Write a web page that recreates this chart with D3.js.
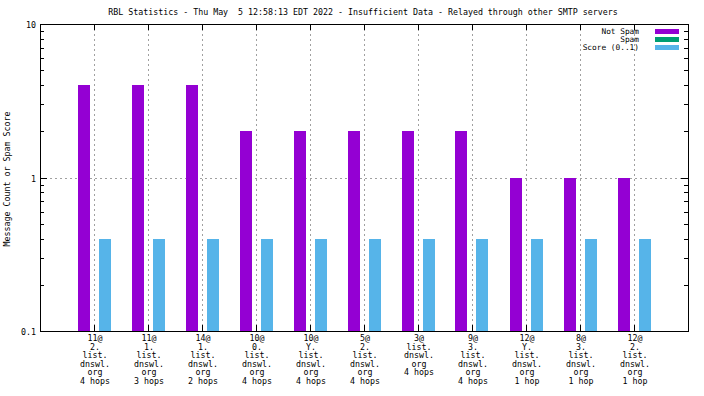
<!DOCTYPE html>
<html>
<head>
<meta charset="utf-8">
<script src="https://cdn.jsdelivr.net/npm/d3@7"></script>
<style>
  body { margin: 0; background: #fff; }
  text { font-family: "DejaVu Sans Mono", monospace; font-size: 8.3px; fill: #000; white-space: pre; }
</style>
</head>
<body>
<svg id="chart" width="704" height="396"></svg>
<script>
// category labels, one entry per group (lines split on "|")
const categories = [
  "11@|2.|list.|dnswl.|org|4 hops",
  "11@|1.|list.|dnswl.|org|3 hops",
  "14@|1.|list.|dnswl.|org|2 hops",
  "10@|0.|list.|dnswl.|org|4 hops",
  "10@|Y.|list.|dnswl.|org|4 hops",
  "5@|2.|list.|dnswl.|org|4 hops",
  "3@|list.|dnswl.|org|4 hops",
  "9@|3.|list.|dnswl.|org|4 hops",
  "12@|Y.|list.|dnswl.|org|1 hop",
  "8@|3.|list.|dnswl.|org|1 hop",
  "12@|2.|list.|dnswl.|org|1 hop"
];
const notSpam = [4, 4, 4, 2, 2, 2, 2, 2, 1, 1, 1];
const spam    = [0, 0, 0, 0, 0, 0, 0, 0, 0, 0, 0];
const score   = [0.4, 0.4, 0.4, 0.4, 0.4, 0.4, 0.4, 0.4, 0.4, 0.4, 0.4];
const yTicks = [0.1, 1, 10];
const seriesNames = ["Not Spam", "Spam", "Score (0..1)"];
const title = "RBL Statistics - Thu May  5 12:58:13 EDT 2022 - Insufficient Data - Relayed through other SMTP servers";

const colors = ["#9400d3", "#009e73", "#56b4e9"];
const svg = d3.select("#chart");

const pL = 40, pR = 688, pT = 24, pB = 331;
const x = d3.scaleLinear().domain([0, categories.length + 1]).range([pL, pR]);
const y = d3.scaleLog().domain([0.1, 10]).range([pB, pT]);

// grid
const grid = svg.append("g")
  .attr("stroke", "#a0a0a0")
  .attr("stroke-dasharray", "2,3")
  .attr("shape-rendering", "crispEdges");
categories.forEach((c, i) => {
  grid.append("line")
    .attr("x1", Math.round(x(i + 1)) + 0.5).attr("x2", Math.round(x(i + 1)) + 0.5)
    .attr("y1", pT).attr("y2", pB);
});
grid.append("line")
  .attr("x1", pL).attr("x2", pR)
  .attr("y1", Math.round(y(1)) + 0.5).attr("y2", Math.round(y(1)) + 0.5);

// bars
const series = [notSpam, spam, score];
const offsets = [[-16.5, -4.5], [-4.5, 4.5], [4.5, 16.5]];
series.forEach((vals, s) => {
  svg.append("g").selectAll("rect")
    .data(vals.map((v, i) => ({ v, i })).filter(d => d.v > 0))
    .join("rect")
    .attr("x", d => Math.round(x(d.i + 1) + offsets[s][0]))
    .attr("width", Math.round(offsets[s][1] - offsets[s][0]))
    .attr("y", d => Math.round(y(d.v)))
    .attr("height", d => pB - Math.round(y(d.v)))
    .attr("fill", colors[s]);
});

// ticks
const ticks = svg.append("g").attr("stroke", "#000").attr("shape-rendering", "crispEdges");
const minor = [];
[0.1, 1].forEach(b => { for (let k = 2; k <= 9; k++) minor.push(b * k); });
minor.forEach(v => {
  const yy = Math.round(y(v)) + 0.5;
  ticks.append("line").attr("x1", pL).attr("x2", pL + 4).attr("y1", yy).attr("y2", yy);
  ticks.append("line").attr("x1", pR - 4).attr("x2", pR).attr("y1", yy).attr("y2", yy);
});
yTicks.forEach(v => {
  const yy = Math.round(y(v)) + 0.5;
  ticks.append("line").attr("x1", pL).attr("x2", pL + 7).attr("y1", yy).attr("y2", yy);
  ticks.append("line").attr("x1", pR - 7).attr("x2", pR).attr("y1", yy).attr("y2", yy);
  svg.append("text").attr("x", 36).attr("y", yy + 3).attr("text-anchor", "end").text(v);
});
categories.forEach((c, i) => {
  const xx = Math.round(x(i + 1)) + 0.5;
  ticks.append("line").attr("x1", xx).attr("x2", xx).attr("y1", pB).attr("y2", pB - 6);
  ticks.append("line").attr("x1", xx).attr("x2", xx).attr("y1", pT).attr("y2", pT + 6);
});

// border
svg.append("rect")
  .attr("x", pL + 0.5).attr("y", pT + 0.5)
  .attr("width", pR - pL).attr("height", pB - pT)
  .attr("fill", "none").attr("stroke", "#000").attr("shape-rendering", "crispEdges");

// x labels
categories.forEach((c, i) => {
  const t = svg.append("text").attr("text-anchor", "middle");
  c.split("|").forEach((line, j) => {
    t.append("tspan").attr("x", x(i + 1) + 1).attr("y", 341 + j * 8.5).text(line);
  });
});

// title
svg.append("text").attr("x", 363).attr("y", 15).attr("text-anchor", "middle").text(title);

// y axis label
svg.append("text")
  .attr("transform", "translate(10,179) rotate(-90)")
  .attr("text-anchor", "middle")
  .text("Message Count or Spam Score");

// legend
seriesNames.forEach((name, s) => {
  const cy = 31 + s * 8.2;
  svg.append("text").attr("x", 639).attr("y", cy + 3).attr("text-anchor", "end")
    .style("font-size", "7.8px").text(name);
  svg.append("rect").attr("x", 655).attr("y", Math.round(cy - 2.5)).attr("width", 24).attr("height", 5).attr("fill", colors[s]);
});
</script>
</body>
</html>
